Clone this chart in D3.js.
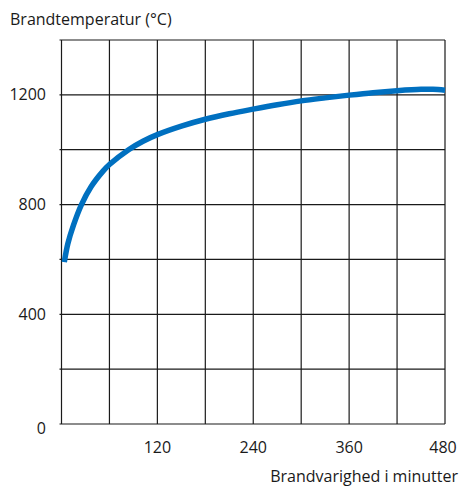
<!DOCTYPE html>
<html>
<head>
<meta charset="utf-8">
<script src="https://cdn.jsdelivr.net/npm/d3@7"></script>
<style>
  body { margin: 0; background: #fff; }
  svg { display: block; font-family: "Open Sans", "Noto Sans", sans-serif; }
</style>
</head>
<body>
<svg id="chart" width="463" height="487"></svg>
<script>
// fire duration in minutes and temperature in degrees C
const minutes = [3.5, 8, 15, 25, 37, 52, 60, 84, 102, 120, 150, 180, 210, 240, 270, 300, 330, 360, 390, 420, 450, 465, 480];
const temps   = [590, 658, 725, 800, 865, 922, 946, 1000, 1031, 1055, 1086, 1111, 1131, 1148, 1164, 1178, 1189, 1199, 1208, 1215, 1220, 1220, 1217];

const xGrid = [0, 60, 120, 180, 240, 300, 360, 420, 480];
const xLabels = [120, 240, 360, 480];
const yGrid = [0, 200, 400, 600, 800, 1000, 1200, 1400];
const yLabels = [0, 400, 800, 1200];

const yTitle = 'Brandtemperatur (°C)';
const xTitle = 'Brandvarighed i minutter';

const margin = { left: 61.5, right: 18, top: 40, bottom: 63 };
const width = 463, height = 487;

const svg = d3.select('#chart');

const x = d3.scaleLinear().domain([0, 480]).range([margin.left, width - margin.right]);
const y = d3.scaleLinear().domain([0, 1400]).range([height - margin.bottom, margin.top]);

// grid
const grid = svg.append('g').attr('stroke', '#1a1a1a').attr('stroke-width', 1.2);

grid.selectAll('line.v')
  .data(xGrid)
  .join('line')
  .attr('class', 'v')
  .attr('x1', d => x(d)).attr('x2', d => x(d))
  .attr('y1', y(0)).attr('y2', y(1400));

grid.selectAll('line.h')
  .data(yGrid)
  .join('line')
  .attr('class', 'h')
  .attr('x1', x(0) - 2).attr('x2', x(480))
  .attr('y1', d => y(d)).attr('y2', d => y(d));

// tick labels
svg.append('g')
  .selectAll('text')
  .data(yLabels)
  .join('text')
  .attr('x', 46)
  .attr('y', d => y(d) + (d === 0 ? 4 : 0))
  .attr('dy', '0.35em')
  .attr('text-anchor', 'end')
  .attr('font-size', 16)
  .attr('fill', '#1a1a1a')
  .text(d => d);

svg.append('g')
  .selectAll('text')
  .data(xLabels)
  .join('text')
  .attr('x', d => x(d) - (d === 480 ? 2 : 0))
  .attr('y', 453)
  .attr('text-anchor', 'middle')
  .attr('font-size', 16)
  .attr('fill', '#1a1a1a')
  .text(d => d);

// axis titles
svg.append('text')
  .attr('x', 10)
  .attr('y', 25)
  .attr('font-size', 16)
  .attr('fill', '#1a1a1a')
  .text(yTitle);

svg.append('text')
  .attr('x', 458)
  .attr('y', 482)
  .attr('text-anchor', 'end')
  .attr('font-size', 16)
  .attr('fill', '#1a1a1a')
  .text(xTitle);

// curve
const points = minutes.map((m, i) => [m, temps[i]]);

const line = d3.line()
  .x(d => x(d[0]))
  .y(d => y(d[1]))
  .curve(d3.curveCatmullRom.alpha(0.5));

svg.append('path')
  .datum(points)
  .attr('d', line)
  .attr('fill', 'none')
  .attr('stroke', '#0070c0')
  .attr('stroke-width', 5.5);
</script>
</body>
</html>
